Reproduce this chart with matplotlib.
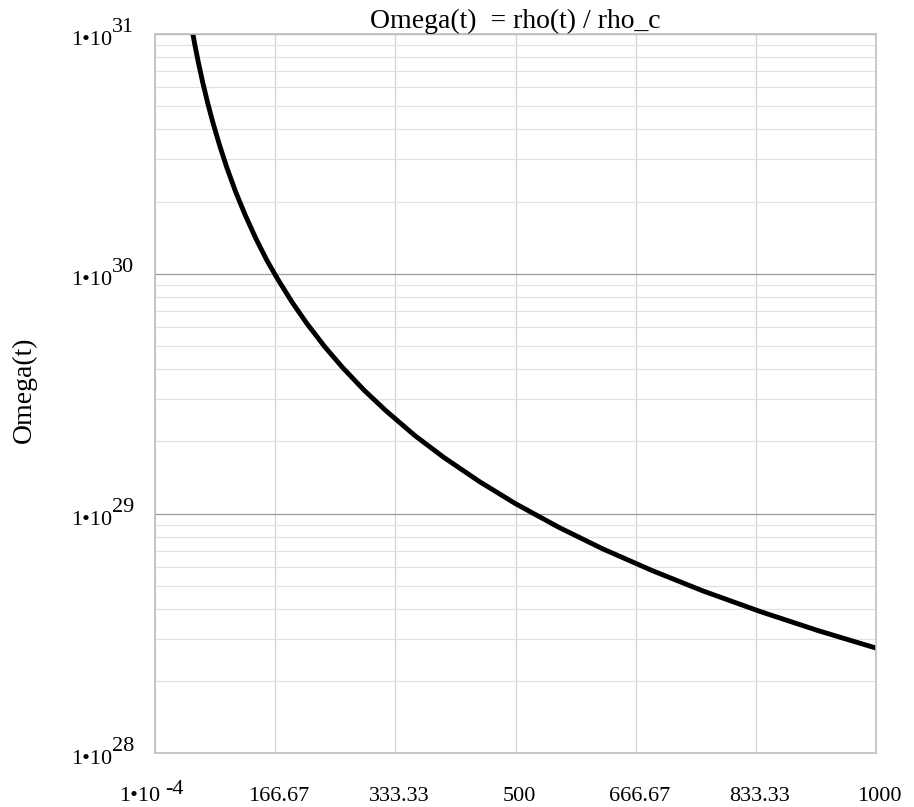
"""Omega(t) = rho(t) / rho_c on a log y axis."""

import matplotlib

matplotlib.use("Agg")

import matplotlib.pyplot as plt
from matplotlib.ticker import FixedLocator, LogLocator, NullFormatter
from matplotlib.transforms import ScaledTranslation, blended_transform_factory, offset_copy

plt.rcParams["font.family"] = ["Liberation Serif", "DejaVu Serif"]

# values
t_values = [46, 50, 55, 60, 66, 73, 80, 90, 100, 112, 125, 140, 155, 170, 190,
            210, 235, 260, 290, 320, 360, 400, 450, 500, 560, 620, 690, 760,
            840, 920, 1000]
omega_values = [1.30e31, 1.10e31, 9.09e30, 7.64e30, 6.31e30, 5.16e30, 4.30e30,
                3.40e30, 2.75e30, 2.19e30, 1.76e30, 1.40e30, 1.14e30, 9.52e29,
                7.62e29, 6.24e29, 4.98e29, 4.07e29, 3.27e29, 2.69e29, 2.12e29,
                1.72e29, 1.36e29, 1.10e29, 8.77e28, 7.15e28, 5.78e28, 4.76e28,
                3.90e28, 3.25e28, 2.75e28]

x_ticks = [1e-4, 166.67, 333.33, 500, 666.67, 833.33, 1000]
x_tick_labels = ["", "166.67", "333.33", "500", "666.67", "833.33", "1000"]
y_ticks = [1e28, 1e29, 1e30, 1e31]
y_exponents = ["28", "29", "30", "31"]


def main() -> None:
    fig = plt.figure(figsize=(9.14, 8.07), dpi=100)
    ax = fig.add_axes([0.1696, 0.0663, 0.789, 0.8916])

    ax.plot(t_values, omega_values, color="black", linewidth=3.5)

    ax.set_yscale("log")
    ax.set_xlim(1e-4, 1000)
    ax.set_ylim(1e28, 1e31)

    ax.set_xticks(x_ticks)
    ax.set_xticklabels(x_tick_labels, fontsize=16)
    ax.yaxis.set_major_locator(FixedLocator(y_ticks))
    ax.yaxis.set_major_formatter(NullFormatter())
    ax.yaxis.set_minor_locator(LogLocator(base=10, subs=range(2, 10)))
    ax.yaxis.set_minor_formatter(NullFormatter())

    ax.tick_params(axis="both", which="both", length=0)
    ax.tick_params(axis="x", pad=24)
    # the reference sets its x labels a few pixels right of the grid lines
    shift = ScaledTranslation(3.5 / fig.dpi, 0, fig.dpi_scale_trans)
    for tick in ax.xaxis.get_major_ticks():
        tick.label1.set_transform(tick.label1.get_transform() + shift)

    # y tick labels written as 1•10 with a full-size raised exponent
    y_trans = blended_transform_factory(ax.transAxes, ax.transData)
    for value, exponent in zip(y_ticks, y_exponents):
        base_tr = offset_copy(y_trans, fig=fig, x=-43, y=-11, units="dots")
        exp_tr = offset_copy(y_trans, fig=fig, x=-43, y=2, units="dots")
        ax.text(0, value, "1•10", transform=base_tr, ha="right", va="baseline", fontsize=16)
        ax.text(0, value, exponent, transform=exp_tr, ha="left", va="baseline", fontsize=16)

    # first x tick label: 1•10^-4
    x_trans = blended_transform_factory(ax.transData, ax.transAxes)
    base_tr = offset_copy(x_trans, fig=fig, x=5, y=-48, units="dots")
    exp_tr = offset_copy(x_trans, fig=fig, x=10, y=-41, units="dots")
    ax.text(x_ticks[0], 0, "1•10", transform=base_tr, ha="right", va="baseline", fontsize=16)
    ax.text(x_ticks[0], 0, "-4", transform=exp_tr, ha="left", va="baseline", fontsize=16)

    ax.grid(True, axis="x", which="major", color="#d4d4d4", linewidth=0.9)
    ax.grid(True, axis="y", which="major", color="#9a9a9a", linewidth=0.9)
    ax.grid(True, axis="y", which="minor", color="#e2e2e2", linewidth=0.9)
    ax.set_axisbelow(True)

    for spine in ax.spines.values():
        spine.set_color("#c0c0c0")
        spine.set_linewidth(1.2)

    ax.set_title("Omega(t)  = rho(t) / rho_c", fontsize=20, pad=2)
    ax.set_ylabel("Omega(t)", fontsize=20)
    ax.yaxis.set_label_coords(-0.164, 0.505)

    fig.savefig("out.png", dpi=100)
    plt.close(fig)


if __name__ == "__main__":
    main()
